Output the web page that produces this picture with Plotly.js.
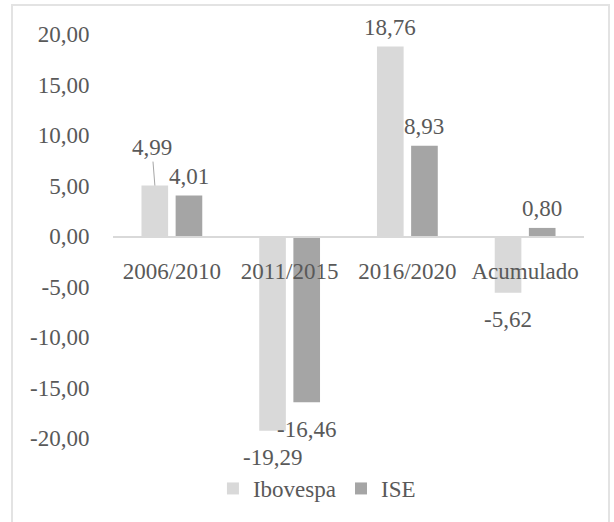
<!DOCTYPE html>
<html>
<head>
<meta charset="utf-8">
<script src="https://cdn.plot.ly/plotly-3.0.1.min.js"></script>
<style>
  html, body { margin: 0; padding: 0; background: #fff; overflow: hidden; }
  #chart { position: absolute; left: 0; top: 0; width: 614px; height: 522px; }
  #frame { position: absolute; left: 11px; top: 4px; width: 599px; height: 540px;
           border: 2px solid #e3e3e3; pointer-events: none; box-sizing: border-box; }
</style>
</head>
<body>
<div id="chart"></div>
<div id="frame"></div>
<script>
const categories = ['2006/2010', '2011/2015', '2016/2020', 'Acumulado'];
const ibovespa = [4.99, -19.29, 18.76, -5.62];
const ise = [4.01, -16.46, 8.93, 0.80];
const yTicks = [-20, -15, -10, -5, 0, 5, 10, 15, 20];

const fmt = v => v.toFixed(2).replace('.', ',');
const FONT = '"Liberation Serif", "Times New Roman", Times, serif';
const TXT = '#595959';
const FS = 23;

const traces = [
  { type: 'bar', name: 'Ibovespa', x: categories, y: ibovespa,
    marker: { color: '#d9d9d9' }, hoverinfo: 'skip' },
  { type: 'bar', name: 'ISE', x: categories, y: ise,
    marker: { color: '#a5a5a5' }, hoverinfo: 'skip' }
];

const annotations = [];
function addLabels(vals, shift) {
  vals.forEach((v, i) => {
    const a = { x: categories[i], y: v, xref: 'x', yref: 'y', text: fmt(v),
      xshift: shift, showarrow: false, xanchor: 'center', yanchor: 'middle',
      yshift: v >= 0 ? 19 : -27, font: { family: FONT, size: FS, color: TXT } };
    annotations.push(a);
  });
}
addLabels(ibovespa, -17);
addLabels(ise, 17);
annotations[0] = { x: categories[0], y: ibovespa[0], xref: 'x', yref: 'y', text: fmt(ibovespa[0]),
  xshift: -17, showarrow: true, arrowhead: 0, arrowwidth: 1, arrowcolor: '#a6a6a6',
  ax: -3, ay: -38, standoff: 0, font: { family: FONT, size: FS, color: TXT } };

const layout = {
  width: 614, height: 522,
  margin: { l: 113, r: 30, t: 34, b: 84 },
  paper_bgcolor: 'rgba(0,0,0,0)', plot_bgcolor: 'rgba(0,0,0,0)',
  font: { family: FONT, size: FS, color: TXT },
  barmode: 'group', bargap: 0.42, bargroupgap: 0.22,
  xaxis: { type: 'category', anchor: 'free', position: 0.5, showline: true,
    linecolor: '#d9d9d9', linewidth: 1.5, showgrid: false, zeroline: false,
    ticks: 'outside', ticklen: 14, tickcolor: 'rgba(0,0,0,0)',
    tickfont: { family: FONT, size: FS, color: TXT }, fixedrange: true },
  yaxis: { range: [-20, 20], tickvals: yTicks, ticktext: yTicks.map(fmt),
    showgrid: false, zeroline: false, showline: false,
    ticks: 'outside', ticklen: 18, tickcolor: 'rgba(0,0,0,0)',
    tickfont: { family: FONT, size: FS, color: TXT }, fixedrange: true },
  showlegend: true,
  legend: { orientation: 'h', x: 0.433, xanchor: 'center', y: -0.125, yanchor: 'middle',
    font: { family: FONT, size: FS, color: TXT }, itemclick: false, itemdoubleclick: false },
  annotations: annotations
};

Plotly.newPlot('chart', traces, layout, { displayModeBar: false, staticPlot: true });
</script>
</body>
</html>
